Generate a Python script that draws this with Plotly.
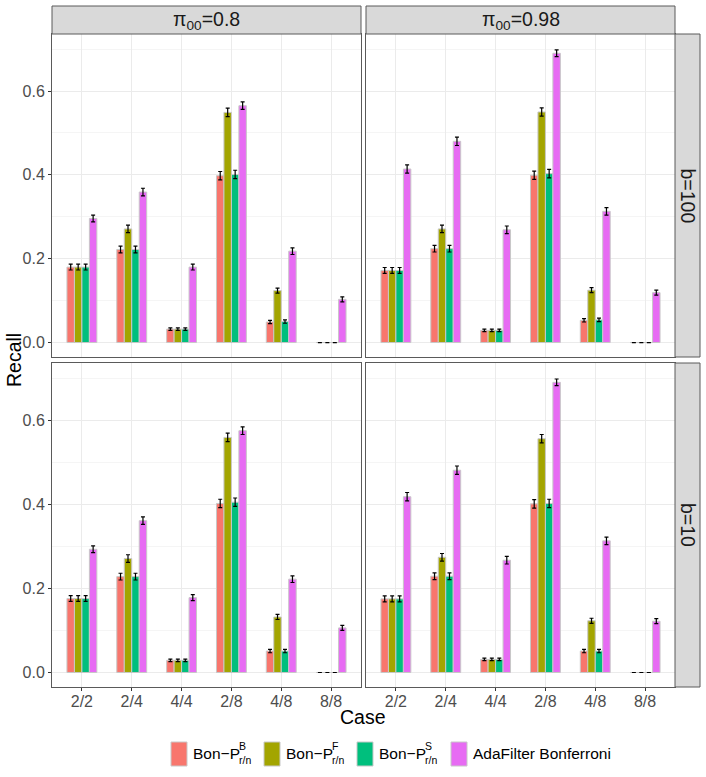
import plotly.graph_objects as go

cases = ["2/2", "2/4", "4/4", "2/8", "4/8", "8/8"]
pi_labels = ["π<sub>00</sub>=0.8", "π<sub>00</sub>=0.98"]
b_labels = ["b=100", "b=10"]
colors = ["#F8766D", "#A3A500", "#00BF7D", "#E76BF3"]

# recall, pi00 = 0.8, b = 100
pi08_b100_bonB = [0.180, 0.222, 0.032, 0.398, 0.049, 0.0]
pi08_b100_bonF = [0.180, 0.271, 0.032, 0.549, 0.124, 0.0]
pi08_b100_bonS = [0.180, 0.222, 0.032, 0.401, 0.050, 0.0]
pi08_b100_ada = [0.296, 0.359, 0.180, 0.565, 0.218, 0.103]

# recall, pi00 = 0.98, b = 100
pi098_b100_bonB = [0.172, 0.224, 0.029, 0.399, 0.053, 0.0]
pi098_b100_bonF = [0.172, 0.271, 0.029, 0.550, 0.125, 0.0]
pi098_b100_bonS = [0.172, 0.224, 0.029, 0.403, 0.054, 0.0]
pi098_b100_ada = [0.414, 0.480, 0.269, 0.690, 0.313, 0.119]

# recall, pi00 = 0.8, b = 10
pi08_b10_bonB = [0.176, 0.228, 0.029, 0.402, 0.051, 0.0]
pi08_b10_bonF = [0.176, 0.271, 0.029, 0.559, 0.132, 0.0]
pi08_b10_bonS = [0.176, 0.228, 0.029, 0.405, 0.051, 0.0]
pi08_b10_ada = [0.293, 0.361, 0.178, 0.575, 0.222, 0.106]

# recall, pi00 = 0.98, b = 10
pi098_b10_bonB = [0.175, 0.229, 0.031, 0.401, 0.051, 0.0]
pi098_b10_bonF = [0.175, 0.274, 0.031, 0.556, 0.123, 0.0]
pi098_b10_bonS = [0.175, 0.229, 0.031, 0.402, 0.051, 0.0]
pi098_b10_ada = [0.418, 0.481, 0.267, 0.690, 0.313, 0.122]

# error bar half widths
err_bonB = [0.007, 0.008, 0.003, 0.010, 0.004, 0.0]
err_bonF = [0.007, 0.009, 0.003, 0.010, 0.006, 0.0]
err_bonS = [0.007, 0.008, 0.003, 0.010, 0.004, 0.0]
err_ada_pi08 = [0.008, 0.009, 0.007, 0.009, 0.008, 0.006]
err_ada_pi098 = [0.010, 0.010, 0.009, 0.008, 0.009, 0.006]

W, H = 706, 777


def fx(x):
    return x / W


def fy(y):
    return 1 - y / H


col_px = [(52, 361), (366, 675)]
row_px = [(34, 357), (363, 687)]

panels = [
    (0, 0, [pi08_b100_bonB, pi08_b100_bonF, pi08_b100_bonS, pi08_b100_ada], err_ada_pi08),
    (0, 1, [pi098_b100_bonB, pi098_b100_bonF, pi098_b100_bonS, pi098_b100_ada], err_ada_pi098),
    (1, 0, [pi08_b10_bonB, pi08_b10_bonF, pi08_b10_bonS, pi08_b10_ada], err_ada_pi08),
    (1, 1, [pi098_b10_bonB, pi098_b10_bonF, pi098_b10_bonS, pi098_b10_ada], err_ada_pi098),
]

fig = go.Figure()
font = "Liberation Sans, Arial, sans-serif"

for i, (r, c, series, err_ada) in enumerate(panels):
    n = "" if i == 0 else str(i + 1)
    errs = [err_bonB, err_bonF, err_bonS, err_ada]
    for k in range(4):
        fig.add_trace(go.Bar(
            x=cases, y=series[k],
            marker=dict(color=colors[k], line=dict(color="#C8C8C8", width=1)),
            error_y=dict(type="data", array=errs[k], color="black", thickness=1.2, width=2),
            xaxis="x" + n, yaxis="y" + n, showlegend=False,
        ))
    fig.layout["xaxis" + n] = dict(
        domain=[fx(col_px[c][0]), fx(col_px[c][1])], anchor="y" + n,
        type="category", categoryorder="array", categoryarray=cases,
        range=[-0.6, 5.6], showgrid=True, gridcolor="#EBEBEB", gridwidth=1,
        showline=True, mirror=True, linecolor="#5A5A5A", linewidth=1,
        ticks="outside" if r == 1 else "", ticklen=3, tickcolor="#333333",
        showticklabels=(r == 1), tickfont=dict(size=16, color="#4D4D4D", family=font),
        ticklabelstandoff=-3,
        zeroline=False, fixedrange=True,
    )
    fig.layout["yaxis" + n] = dict(
        domain=[fy(row_px[r][1]), fy(row_px[r][0])], anchor="x" + n,
        range=[-0.0345, 0.736], tickvals=[0, 0.2, 0.4, 0.6],
        ticktext=["0.0", "0.2", "0.4", "0.6"],
        showgrid=True, gridcolor="#EBEBEB", gridwidth=1,
        minor=dict(tickvals=[0.1, 0.3, 0.5, 0.7], showgrid=True, gridcolor="#F5F5F5", gridwidth=0.6),
        showline=True, mirror=True, linecolor="#5A5A5A", linewidth=1,
        ticks="outside" if c == 0 else "", ticklen=3, tickcolor="#333333",
        showticklabels=(c == 0), tickfont=dict(size=16, color="#4D4D4D", family=font),
        zeroline=False, fixedrange=True,
    )

shapes = []
annotations = []

# facet strips
for c in range(2):
    x0, x1 = col_px[c]
    shapes.append(dict(type="rect", xref="paper", yref="paper",
                       x0=fx(x0), x1=fx(x1), y0=fy(34), y1=fy(6),
                       fillcolor="#D9D9D9", line=dict(color="#5A5A5A", width=1)))
    annotations.append(dict(text=pi_labels[c], xref="paper", yref="paper",
                            x=fx((x0 + x1) / 2), y=fy(20), showarrow=False,
                            xanchor="center", yanchor="middle",
                            font=dict(size=19.5, color="#1A1A1A", family=font)))
for r in range(2):
    y0, y1 = row_px[r]
    shapes.append(dict(type="rect", xref="paper", yref="paper",
                       x0=fx(675), x1=fx(700), y0=fy(y1), y1=fy(y0),
                       fillcolor="#D9D9D9", line=dict(color="#5A5A5A", width=1)))
    annotations.append(dict(text=b_labels[r], xref="paper", yref="paper",
                            x=fx(688), y=fy((y0 + y1) / 2), showarrow=False,
                            textangle=90, xanchor="center", yanchor="middle",
                            font=dict(size=19.5, color="#1A1A1A", family=font)))

# axis titles
annotations.append(dict(text="Recall", xref="paper", yref="paper", x=fx(14), y=fy(360),
                        showarrow=False, textangle=-90, xanchor="center", yanchor="middle",
                        font=dict(size=19.5, color="black", family=font)))
annotations.append(dict(text="Case", xref="paper", yref="paper", x=fx(363), y=fy(717),
                        showarrow=False, xanchor="center", yanchor="middle",
                        font=dict(size=19.5, color="black", family=font)))

# legend
key_x = [171, 264, 357, 451]
sup_text = ["B", "F", "S"]
for k in range(4):
    shapes.append(dict(type="rect", xref="paper", yref="paper",
                       x0=fx(key_x[k]), x1=fx(key_x[k] + 16), y0=fy(766), y1=fy(742),
                       fillcolor=colors[k], line=dict(color="#C8C8C8", width=1)))
    tx = key_x[k] + 20
    if k < 3:
        annotations.append(dict(text="Bon−P", xref="paper", yref="paper", x=fx(tx), y=fy(753),
                                showarrow=False, xanchor="left", yanchor="middle",
                                font=dict(size=15.5, color="black", family=font)))
        annotations.append(dict(text=sup_text[k], xref="paper", yref="paper", x=fx(tx + 46), y=fy(746),
                                showarrow=False, xanchor="left", yanchor="middle",
                                font=dict(size=10.5, color="black", family=font)))
        annotations.append(dict(text="r/n", xref="paper", yref="paper", x=fx(tx + 46), y=fy(760),
                                showarrow=False, xanchor="left", yanchor="middle",
                                font=dict(size=10.5, color="black", family=font)))
    else:
        annotations.append(dict(text="AdaFilter Bonferroni", xref="paper", yref="paper", x=fx(tx), y=fy(753),
                                showarrow=False, xanchor="left", yanchor="middle",
                                font=dict(size=15.5, color="black", family=font)))

fig.update_layout(
    width=W, height=H, margin=dict(l=0, r=0, t=0, b=0),
    paper_bgcolor="white", plot_bgcolor="white",
    barmode="group", bargap=0.4, bargroupgap=0,
    shapes=shapes, annotations=annotations,
    font=dict(family=font),
)

fig.write_html("out.html", config={"displayModeBar": False},
               post_script="document.body.style.margin='0';")
